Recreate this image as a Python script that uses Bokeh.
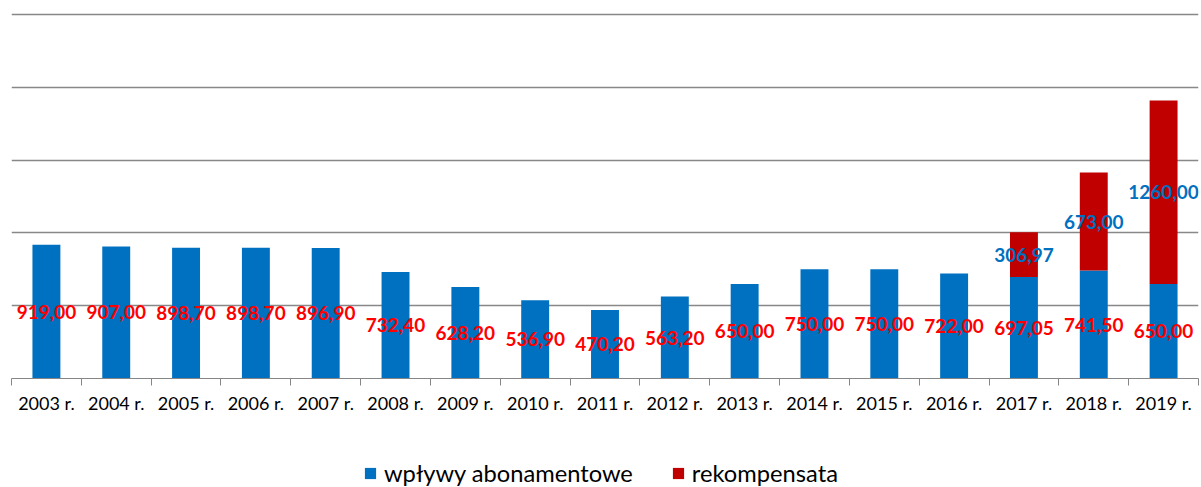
from bokeh.plotting import figure
from bokeh.layouts import column
from bokeh.models import ColumnDataSource, FixedTicker, Legend, LegendItem, Range1d
from bokeh.core.properties import value
from bokeh.embed import file_html
from bokeh.resources import INLINE

years = ["2003", "2004", "2005", "2006", "2007", "2008", "2009", "2010", "2011",
         "2012", "2013", "2014", "2015", "2016", "2017", "2018", "2019"]
wplywy = [919.00, 907.00, 898.70, 898.70, 896.90, 732.40, 628.20, 536.90, 470.20,
          563.20, 650.00, 750.00, 750.00, 722.00, 697.05, 741.50, 650.00]
rekompensata = [0, 0, 0, 0, 0, 0, 0, 0, 0, 0, 0, 0, 0, 0, 306.97, 673.00, 1260.00]
y_ticks = [0, 500, 1000, 1500, 2000, 2500]
series_names = ["wpływy abonamentowe", "rekompensata"]

BLUE = "#0070C0"
RED = "#C00000"
FONT = "Lato"

def fmt(v):
    return f"{v:.2f}".replace(".", ",")

xs = list(range(len(years)))
src = ColumnDataSource(dict(
    x=xs,
    w=wplywy,
    top=[a + b for a, b in zip(wplywy, rekompensata)],
    wmid=[a / 2 for a in wplywy],
    wlab=[fmt(a) for a in wplywy],
))
rx = [i for i, r in zip(xs, rekompensata) if r > 0]
rsrc = ColumnDataSource(dict(
    x=rx,
    mid=[wplywy[i] + rekompensata[i] / 2 for i in rx],
    lab=[fmt(rekompensata[i]) for i in rx],
))

p = figure(width=1201, height=420, output_backend="svg", toolbar_location=None,
           x_range=Range1d(-0.5, len(years) - 0.5), y_range=Range1d(y_ticks[0], 2528),
           min_border_left=11, min_border_right=3, min_border_top=10, min_border_bottom=42)
p.outline_line_color = None
p.background_fill_color = "white"
p.border_fill_color = "white"

p.vbar(x="x", bottom=0, top="w", width=0.4, source=src, fill_color=BLUE, line_color=None)
p.vbar(x="x", bottom="w", top="top", width=0.4, source=src, fill_color=RED, line_color=None)

p.text(x="x", y="wmid", text="wlab", source=src, text_color="#FF0000",
       text_font=value(FONT), text_font_style="bold", text_font_size="19px",
       text_align="center", text_baseline="middle")
p.text(x="x", y="mid", text="lab", source=rsrc, text_color=BLUE,
       text_font=value(FONT), text_font_style="bold", text_font_size="19px",
       text_align="center", text_baseline="middle")

p.yaxis.visible = False
p.yaxis.ticker = FixedTicker(ticks=y_ticks)
p.ygrid.ticker = FixedTicker(ticks=y_ticks)
p.ygrid.grid_line_color = "#888888"
p.ygrid.grid_line_width = 1.6
p.xgrid.visible = False

xa = p.xaxis[0]
xa.ticker = FixedTicker(ticks=xs, minor_ticks=[i - 0.5 for i in range(len(years) + 1)])
xa.major_label_overrides = {i: f"{y} r." for i, y in enumerate(years)}
xa.major_tick_out = 0
xa.major_tick_in = 0
xa.minor_tick_out = 7
xa.minor_tick_in = 0
xa.minor_tick_line_color = "#868686"
xa.axis_line_color = "#868686"
xa.axis_line_width = 1
xa.major_label_standoff = 6
xa.major_label_text_font = FONT
xa.major_label_text_font_size = "18px"
xa.major_label_text_color = "black"

# legend strip: zero-width proxy bars carry the legend swatches and draw nothing
q = figure(width=1201, height=67, output_backend="svg", toolbar_location=None,
           x_range=Range1d(-0.5, len(years) - 0.5), y_range=Range1d(0, 1),
           x_axis_location=None, y_axis_location=None,
           min_border_left=0, min_border_right=0, min_border_top=0, min_border_bottom=0)
q.outline_line_color = None
q.xgrid.visible = False
q.ygrid.visible = False
q.background_fill_color = "white"
q.border_fill_color = "white"
lr1 = q.vbar(x="x", bottom=0, top="w", width=0, source=src, fill_color=BLUE, line_color=None)
lr2 = q.vbar(x="x", bottom="w", top="top", width=0, source=src, fill_color=RED, line_color=None)
legend = Legend(items=[LegendItem(label=series_names[0], renderers=[lr1]),
                       LegendItem(label=series_names[1], renderers=[lr2])],
                orientation="horizontal", location=(352, 0),
                label_text_font=FONT, label_text_font_size="23.7px", label_text_color="black",
                glyph_width=14, glyph_height=14, label_height=24, label_standoff=7, spacing=38,
                border_line_color=None, background_fill_alpha=0, margin=0, padding=0)
q.add_layout(legend, "center")

open("out.html", "w").write(file_html(column(p, q, spacing=0), INLINE))
